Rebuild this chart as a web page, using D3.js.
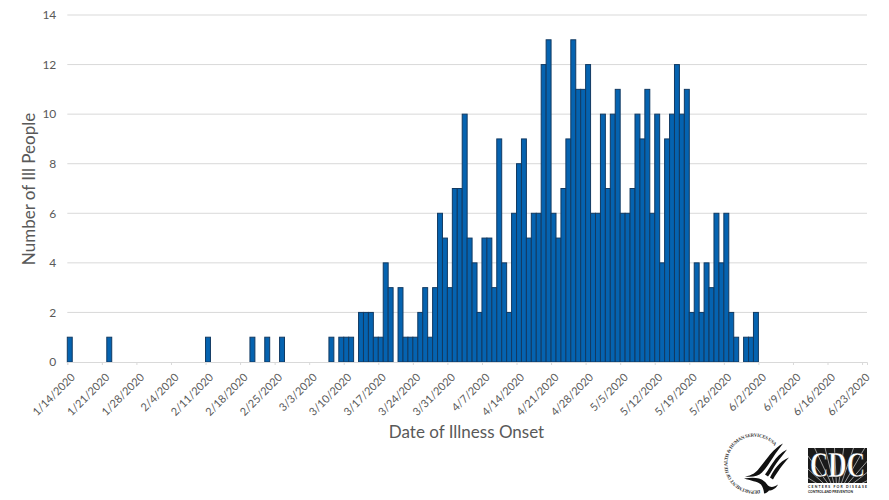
<!DOCTYPE html>
<html>
<head>
<meta charset="utf-8">
<script src="https://d3js.org/d3.v7.min.js"></script>
<style>
  html, body { margin: 0; padding: 0; background: #fff; }
  svg { display: block; }
  text { font-family: Lato, "Open Sans", sans-serif; }
</style>
</head>
<body>
<script>
// first day of the counts below
var firstDay = "1/14/2020";

// ill people per day, one value per day from 1/14/2020
var counts = [
  1,0,0,0,0,0,0,0,1,0,0,0,0,0,0,0,0,0,0,0,
  0,0,0,0,0,0,0,0,1,0,0,0,0,0,0,0,0,1,0,0,
  1,0,0,1,0,0,0,0,0,0,0,0,0,1,0,1,1,1,0,2,
  2,2,1,1,4,3,0,3,1,1,1,2,3,1,3,6,5,3,7,7,
  10,5,4,2,5,5,3,9,4,2,6,8,9,5,6,6,12,13,6,5,
  7,9,13,11,11,12,6,6,10,7,10,11,6,6,7,10,9,11,6,10,
  4,9,10,12,10,11,2,4,2,4,3,6,4,6,2,1,0,1,1,2
];

var tickLabels = ["1/14/2020","1/21/2020","1/28/2020","2/4/2020","2/11/2020","2/18/2020",
  "2/25/2020","3/3/2020","3/10/2020","3/17/2020","3/24/2020","3/31/2020","4/7/2020",
  "4/14/2020","4/21/2020","4/28/2020","5/5/2020","5/12/2020","5/19/2020","5/26/2020",
  "6/2/2020","6/9/2020","6/16/2020","6/23/2020"];

var yTicks = [0,2,4,6,8,10,12,14];

var width = 889, height = 500;
var plotLeft = 67.3, plotRight = 867, plotTop = 15, plotBottom = 362;

var parse = d3.utcParse("%-m/%-d/%Y");
var format = d3.utcFormat("%-m/%-d/%Y");
var start = parse(firstDay);
var end = d3.utcDay.offset(parse(tickLabels[tickLabels.length - 1]), 1);

var x = d3.scaleUtc().domain([start, end]).range([plotLeft, plotRight]);
var y = d3.scaleLinear().domain([0, 14]).range([plotBottom, plotTop]);

var svg = d3.select("body").append("svg")
  .attr("width", width)
  .attr("height", height);

// gridlines
svg.append("g").selectAll("line")
  .data(yTicks.slice(1))
  .enter().append("line")
  .attr("x1", plotLeft).attr("x2", plotRight)
  .attr("y1", function(d) { return y(d); })
  .attr("y2", function(d) { return y(d); })
  .attr("stroke", "#d9d9d9")
  .attr("stroke-width", 1);

// bars
svg.append("g").selectAll("rect")
  .data(counts.map(function(c, i) { return {day: d3.utcDay.offset(start, i), n: c}; })
    .filter(function(d) { return d.n > 0; }))
  .enter().append("rect")
  .attr("x", function(d) { return x(d.day); })
  .attr("y", function(d) { return y(d.n); })
  .attr("width", function(d) { return x(d3.utcDay.offset(d.day, 1)) - x(d.day); })
  .attr("height", function(d) { return y(0) - y(d.n); })
  .attr("fill", "#0563b0")
  .attr("stroke", "#123a62")
  .attr("stroke-width", 1);

// x axis
var xAxis = d3.axisBottom(x)
  .tickValues(tickLabels.map(parse))
  .tickFormat(format)
  .tickSizeOuter(0)
  .tickSize(3);

var gx = svg.append("g")
  .attr("transform", "translate(0," + plotBottom + ")")
  .call(xAxis);
gx.select(".domain").attr("stroke", "#d9d9d9");
gx.selectAll(".tick line").attr("stroke", "#d9d9d9");
gx.selectAll(".tick text")
  .attr("fill", "#595959")
  .style("font-size", "11px")
  .attr("text-anchor", "end")
  .attr("x", 0).attr("y", 0).attr("dy", 0)
  .attr("transform", "translate(8,16) rotate(-45)");

// y axis
var yAxis = d3.axisLeft(y).tickValues(yTicks).tickSize(0).tickPadding(11);
var gy = svg.append("g")
  .attr("transform", "translate(" + plotLeft + ",0)")
  .call(yAxis);
gy.select(".domain").remove();
gy.selectAll(".tick text")
  .attr("fill", "#595959")
  .style("font-size", "12px");

// axis titles
svg.append("text")
  .attr("transform", "translate(35,189) rotate(-90)")
  .attr("text-anchor", "middle")
  .attr("fill", "#595959")
  .style("font-size", "17px")
  .text("Number of Ill People");

svg.append("text")
  .attr("x", 466.5).attr("y", 438)
  .attr("text-anchor", "middle")
  .attr("fill", "#595959")
  .style("font-size", "17px")
  .text("Date of Illness Onset");

// HHS seal
var hhs = svg.append("g").attr("transform", "translate(754,463.5)");
hhs.append("path")
  .attr("id", "sealText")
  .attr("d", "M 6,26.5 A 27 27 0 1 1 22,-16")
  .attr("fill", "none");
hhs.append("text")
  .style("font-family", "'Liberation Serif', serif")
  .style("font-size", "4.8px")
  .style("font-weight", "bold")
  .attr("fill", "#333")
  .append("textPath")
  .attr("href", "#sealText")
  .attr("textLength", 113)
  .text("DEPARTMENT OF HEALTH & HUMAN SERVICES USA");

// eagle: three wing strokes and the body
var eagle = [
  "M -9,13 C -2,12 2,9 5,5 C 9,0 12,-4 16,-9 C 20,-14 25,-18 29,-20 C 26,-16 22,-11 19,-6 C 15,0 12,5 8,9 C 4,13 -2,14 -9,13 Z",
  "M 11,11 C 14,7 16,3 19,-1 C 22,-6 27,-11 33,-14 C 30,-10 26,-5 23,-1 C 20,3 17,9 14,13 Z",
  "M 16,14 C 18,10 20,6 23,3 C 26,-1 30,-4 35,-6 C 32,-3 29,1 26,5 C 24,8 21,12 19,16 Z",
  "M -10,15 C -4,14 1,14 5,15 C 9,16 12,19 14,22 C 16,24 20,24 24,21 C 22,25 18,27 15,27 C 14,28 12,30 10,30 C 10,27 9,24 7,21 C 4,18 -4,17 -10,15 Z"
];
hhs.append("g").selectAll("path")
  .data(eagle)
  .enter().append("path")
  .attr("d", function(d) { return d; })
  .attr("fill", "#111");

// CDC logo
var cdc = svg.append("g").attr("transform", "translate(808,448)");
cdc.append("rect")
  .attr("width", 59).attr("height", 35)
  .attr("fill", "#1a1a1a");
var rays = d3.range(-80, 81, 11);
cdc.append("clipPath").attr("id", "cdcClip")
  .append("rect").attr("width", 59).attr("height", 35);
cdc.append("g").attr("clip-path", "url(#cdcClip)").selectAll("line")
  .data(rays)
  .enter().append("line")
  .attr("x1", 29).attr("y1", 48)
  .attr("x2", function(d) { return 29 + 70 * Math.sin(d * Math.PI / 180); })
  .attr("y2", function(d) { return 48 - 70 * Math.cos(d * Math.PI / 180); })
  .attr("stroke", "#bbb")
  .attr("stroke-width", 0.8);
cdc.append("text")
  .attr("x", 29.5).attr("y", 29)
  .attr("text-anchor", "middle")
  .attr("fill", "#fff")
  .attr("stroke", "#1a1a1a")
  .attr("stroke-width", 0.4)
  .style("font-family", "'Liberation Serif', serif")
  .style("font-weight", "bold")
  .style("font-size", "35px")
  .attr("textLength", 55)
  .attr("lengthAdjust", "spacingAndGlyphs")
  .text("CDC");
cdc.append("text")
  .attr("x", 0).attr("y", 39.5)
  .attr("fill", "#222")
  .style("font-size", "3.4px")
  .style("font-weight", "bold")
  .attr("textLength", 59)
  .text("CENTERS FOR DISEASE");
cdc.append("text")
  .attr("x", 0).attr("y", 45)
  .attr("fill", "#222")
  .style("font-size", "3.4px")
  .style("font-weight", "bold")
  .attr("textLength", 45)
  .attr("lengthAdjust", "spacingAndGlyphs")
  .text("CONTROL AND PREVENTION");
</script>
</body>
</html>
